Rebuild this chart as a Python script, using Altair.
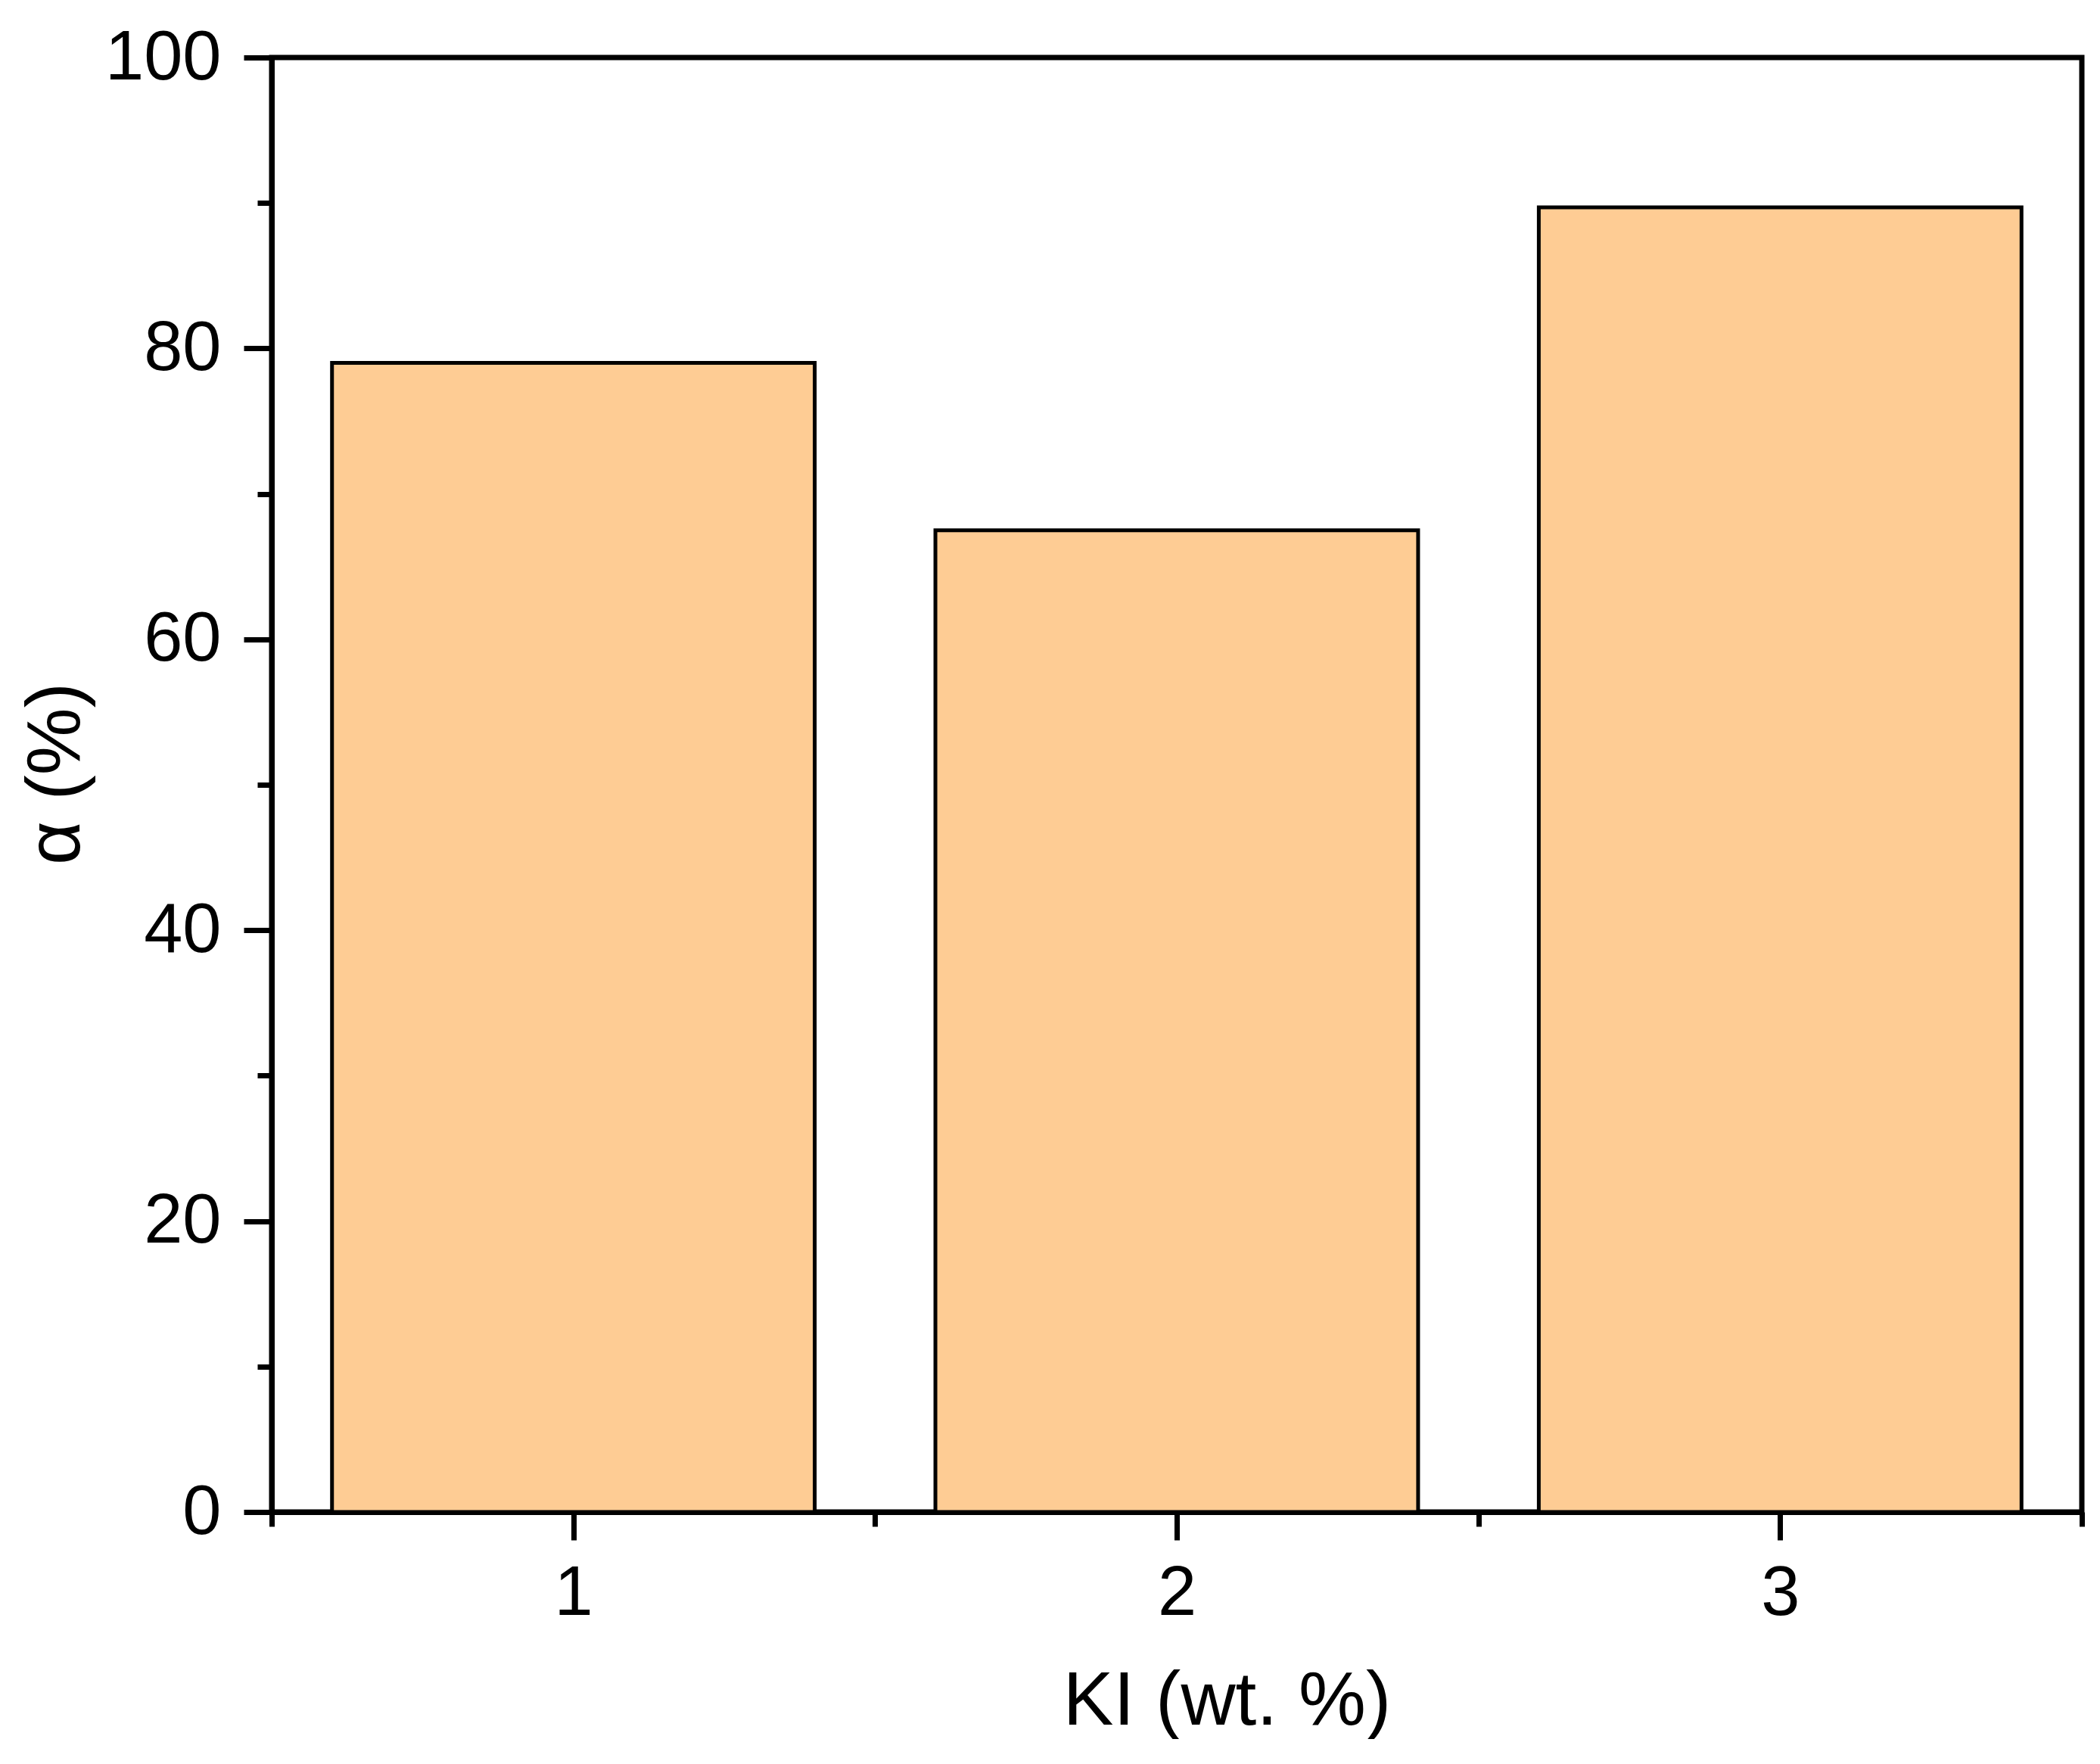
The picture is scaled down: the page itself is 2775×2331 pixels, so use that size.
import altair as alt
import pandas as pd

ki = [1, 2, 3]
alpha = [79.0, 67.5, 89.7]

df = pd.DataFrame({"KI": ki, "alpha": alpha})

FONT = "Liberation Sans"

x_scale = alt.Scale(domain=[0.5, 3.5], nice=False, zero=False)
y_scale = alt.Scale(domain=[0, 100], nice=False)

base = alt.Chart(df).transform_calculate(
    x0="datum.KI - 0.4", x1="datum.KI + 0.4", zero="0"
)

bars = base.mark_bar(fill="#FECC94", stroke="black", strokeWidth=5).encode(
    x=alt.X(
        "x0:Q",
        scale=x_scale,
        axis=alt.Axis(
            values=[1, 2, 3],
            orient="bottom",
            title="KI (wt. %)",
            titleFont=FONT,
            titleFontSize=100,
            titleFontWeight="normal",
            titleColor="black",
            titlePadding=48,
            titleX=1262,
            titleAlign="center",
            labelFont=FONT,
            labelFontSize=92,
            labelColor="black",
            labelPadding=25,
            labelFlush=False,
            tickSize=37,
            tickWidth=7,
            tickColor="black",
            domainWidth=7,
            domainColor="black",
            grid=False,
            format="d",
        ),
    ),
    x2="x1:Q",
    y=alt.Y(
        "alpha:Q",
        scale=y_scale,
        axis=alt.Axis(
            values=[0, 20, 40, 60, 80, 100],
            orient="left",
            title="α (%)",
            titleFont=FONT,
            titleFontSize=100,
            titleFontWeight="normal",
            titleColor="black",
            titlePadding=34,
            titleY=946,
            labelFont=FONT,
            labelFontSize=92,
            labelColor="black",
            labelPadding=30,
            labelFlush=False,
            tickSize=37,
            tickWidth=7,
            tickColor="black",
            domainWidth=7,
            domainColor="black",
            grid=False,
        ),
    ),
    y2="zero:Q",
)

minor = base.mark_bar(opacity=0).encode(
    x=alt.X(
        "x0:Q",
        scale=x_scale,
        axis=alt.Axis(
            values=[0.5, 1.5, 2.5, 3.5],
            orient="bottom",
            title=None,
            labels=False,
            domain=False,
            tickSize=19,
            tickWidth=7,
            tickColor="black",
            grid=False,
        ),
    ),
    x2="x1:Q",
    y=alt.Y(
        "alpha:Q",
        scale=y_scale,
        axis=alt.Axis(
            values=[10, 30, 50, 70, 90],
            orient="left",
            title=None,
            labels=False,
            domain=False,
            tickSize=19,
            tickWidth=7,
            tickColor="black",
            grid=False,
        ),
    ),
    y2="zero:Q",
)

chart = (
    alt.layer(bars, minor)
    .resolve_axis(x="independent", y="independent")
    .properties(
        width=2392,
        height=1922,
        autosize=alt.AutoSizeParams(type="none"),
        padding={"left": 351, "top": 68, "right": 8, "bottom": 300},
        background="white",
    )
    .configure_view(stroke="black", strokeWidth=7)
)

chart.save("out.html", embed_options={"renderer": "svg", "actions": False})
